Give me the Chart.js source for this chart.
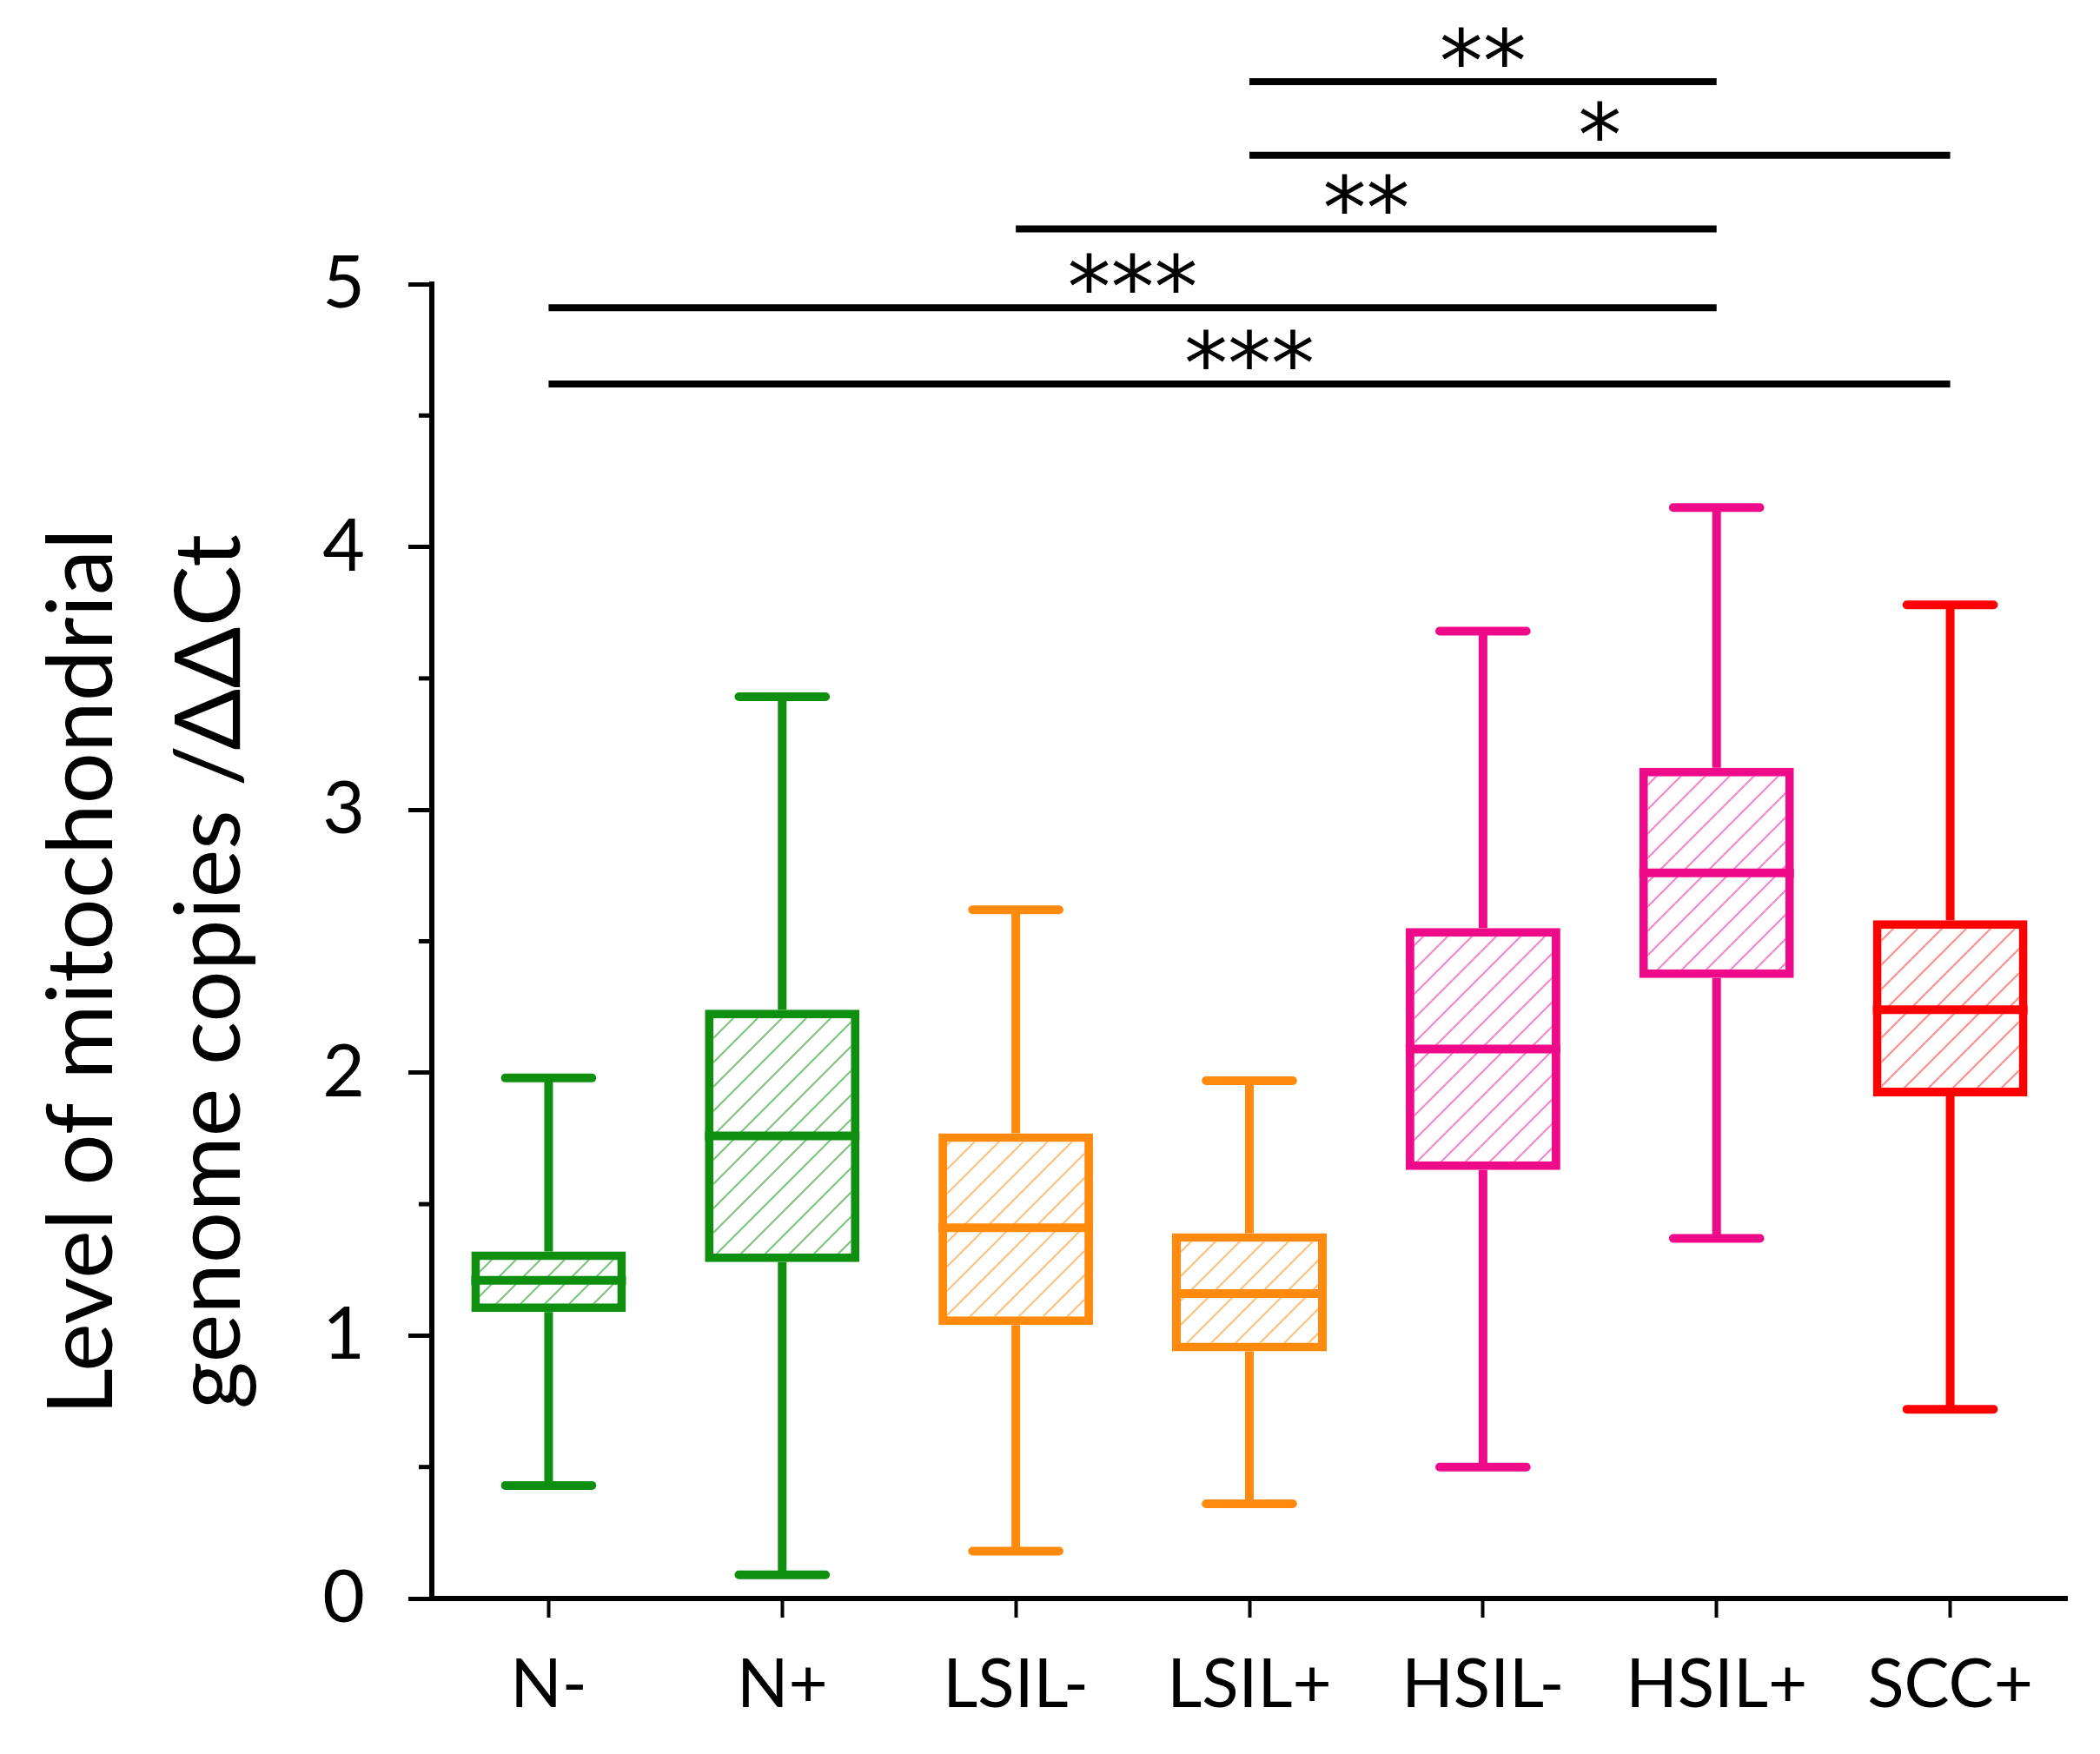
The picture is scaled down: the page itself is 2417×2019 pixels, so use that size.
<!DOCTYPE html>
<html>
<head>
<meta charset="utf-8">
<script src="https://cdn.jsdelivr.net/npm/chart.js@4.4.0/dist/chart.umd.min.js"></script>
<style>
  html, body { margin: 0; padding: 0; background: #fff; }
  #wrap { width: 2417px; height: 2019px; position: relative; }
</style>
</head>
<body>
<div id="wrap"><canvas id="chart"></canvas></div>
<script>
// groups and box-plot values
const categories  = ['N-', 'N+', 'LSIL-', 'LSIL+', 'HSIL-', 'HSIL+', 'SCC+'];
const whiskerLow  = [0.43, 0.09, 0.18, 0.36, 0.50, 1.37, 0.72];
const quartile1   = [1.09, 1.28, 1.04, 0.94, 1.63, 2.36, 1.91];
const medians     = [1.21, 1.76, 1.41, 1.16, 2.09, 2.76, 2.24];
const quartile3   = [1.32, 2.24, 1.77, 1.39, 2.55, 3.16, 2.58];
const whiskerHigh = [1.98, 3.43, 2.62, 1.97, 3.68, 4.15, 3.78];

const yTickLabels = [0, 1, 2, 3, 4, 5];

// significance brackets
const sigFrom  = ['LSIL+', 'LSIL+', 'LSIL-', 'N-', 'N-'];
const sigTo    = ['HSIL+', 'SCC+', 'HSIL+', 'HSIL+', 'SCC+'];
const sigLevel = [5.77, 5.49, 5.21, 4.91, 4.62];
const sigStars = ['**', '*', '**', '***', '***'];

const yTitle = ['Level of mitochondrial', 'genome copies /ΔΔCt'];

// colours
const groupColors = ['#0f8f0f', '#0f8f0f', '#ff8a0d', '#ff8a0d', '#ee0a88', '#ee0a88', '#ff0000'];
const hatchColors = ['rgba(15,143,15,0.55)', 'rgba(15,143,15,0.55)', 'rgba(255,138,13,0.55)', 'rgba(255,138,13,0.55)',
                     'rgba(238,10,136,0.5)', 'rgba(238,10,136,0.5)', 'rgba(255,0,0,0.45)'];

const LINE_W = 10;

// diagonal hatch fill for the boxes
function hatch(color) {
    const s = 28;
    const c = document.createElement('canvas');
    c.width = s;
    c.height = s;
    const g = c.getContext('2d');
    g.fillStyle = '#fff';
    g.fillRect(0, 0, s, s);
    g.strokeStyle = color;
    g.lineWidth = 2;
    g.beginPath();
    g.moveTo(0, s); g.lineTo(s, 0);
    g.moveTo(-s / 2, s / 2); g.lineTo(s / 2, -s / 2);
    g.moveTo(s / 2, 3 * s / 2); g.lineTo(3 * s / 2, s / 2);
    g.stroke();
    return g.createPattern(c, 'repeat');
}

// whiskers under the boxes, medians on top
const boxPlugin = {
    id: 'boxWhiskers',
    beforeDatasetsDraw(chart) {
        const y = chart.scales.y;
        const ctx = chart.ctx;
        ctx.save();
        chart.getDatasetMeta(0).data.forEach((bar, i) => {
            const half = bar.width * 0.28;
            const yHi = y.getPixelForValue(whiskerHigh[i]);
            const yLo = y.getPixelForValue(whiskerLow[i]);
            ctx.strokeStyle = groupColors[i];
            ctx.lineWidth = LINE_W;
            ctx.lineCap = 'butt';
            ctx.beginPath();
            ctx.moveTo(bar.x, yHi);
            ctx.lineTo(bar.x, y.getPixelForValue(quartile3[i]));
            ctx.moveTo(bar.x, y.getPixelForValue(quartile1[i]));
            ctx.lineTo(bar.x, yLo);
            ctx.stroke();
            ctx.lineCap = 'round';
            ctx.beginPath();
            ctx.moveTo(bar.x - half, yHi); ctx.lineTo(bar.x + half, yHi);
            ctx.moveTo(bar.x - half, yLo); ctx.lineTo(bar.x + half, yLo);
            ctx.stroke();
        });
        ctx.restore();
    },
    afterDatasetsDraw(chart) {
        const y = chart.scales.y;
        const ctx = chart.ctx;
        ctx.save();
        chart.getDatasetMeta(0).data.forEach((bar, i) => {
            const ym = y.getPixelForValue(medians[i]);
            ctx.strokeStyle = groupColors[i];
            ctx.lineWidth = LINE_W;
            ctx.beginPath();
            ctx.moveTo(bar.x - bar.width / 2, ym);
            ctx.lineTo(bar.x + bar.width / 2, ym);
            ctx.stroke();
        });
        ctx.restore();
    },
};

// minor y ticks, significance brackets, y title
const decorPlugin = {
    id: 'decor',
    afterDraw(chart) {
        const { ctx, chartArea } = chart;
        const x = chart.scales.x;
        const y = chart.scales.y;
        ctx.save();

        // minor ticks at the half steps
        ctx.strokeStyle = '#000';
        ctx.lineWidth = 5;
        y.ticks.forEach((t, i) => {
            if (yTickLabels.includes(t.value)) return;
            const py = y.getPixelForTick(i);
            ctx.beginPath();
            ctx.moveTo(chartArea.left - 15, py);
            ctx.lineTo(chartArea.left, py);
            ctx.stroke();
        });

        // brackets + stars
        ctx.lineWidth = 8;
        ctx.fillStyle = '#000';
        ctx.font = '100px "DejaVu Sans"';
        ctx.textAlign = 'center';
        ctx.textBaseline = 'alphabetic';
        sigLevel.forEach((lvl, i) => {
            const x1 = x.getPixelForValue(categories.indexOf(sigFrom[i]));
            const x2 = x.getPixelForValue(categories.indexOf(sigTo[i]));
            const py = y.getPixelForValue(lvl);
            ctx.beginPath();
            ctx.moveTo(x1, py);
            ctx.lineTo(x2, py);
            ctx.stroke();
            const m = ctx.measureText(sigStars[i]);
            const centre = py - 40;
            const base = centre + (m.actualBoundingBoxAscent - m.actualBoundingBoxDescent) / 2;
            ctx.fillText(sigStars[i], (x1 + x2) / 2, base);
        });

        // rotated two-line axis title
        ctx.font = '105px Lato';
        ctx.textAlign = 'center';
        ctx.textBaseline = 'alphabetic';
        const cy = (chartArea.top + chartArea.bottom) / 2 + 35;
        [chartArea.left - 368, chartArea.left - 221].forEach((bx, i) => {
            ctx.save();
            ctx.translate(bx, cy);
            ctx.rotate(-Math.PI / 2);
            ctx.fillText(yTitle[i], 0, 0);
            ctx.restore();
        });

        ctx.restore();
    },
};

function draw() {
    const ctx = document.getElementById('chart').getContext('2d');
    new Chart(ctx, {
        type: 'bar',
        data: {
            labels: categories,
            datasets: [{
                data: categories.map((c, i) => [quartile1[i], quartile3[i]]),
                backgroundColor: hatchColors.map(hatch),
                borderColor: groupColors,
                borderWidth: LINE_W,
                borderSkipped: false,
                barPercentage: 0.662,
                categoryPercentage: 1.0,
            }],
        },
        options: {
            responsive: true,
            maintainAspectRatio: false,
            devicePixelRatio: 1,
            animation: false,
            layout: { padding: { top: 327, right: 38, bottom: 0, left: 0 } },
            plugins: {
                legend: { display: false },
                tooltip: { enabled: false },
            },
            scales: {
                x: {
                    offset: true,
                    grid: { drawOnChartArea: false, offset: false, tickLength: 22, tickWidth: 4, tickColor: '#000' },
                    border: { display: true, color: '#000', width: 6 },
                    ticks: { padding: 31, color: '#000', font: { family: 'Lato', size: 78 } },
                    afterFit: (s) => { s.height = 179; },
                },
                y: {
                    min: 0,
                    max: 5,
                    grid: {
                        drawOnChartArea: false,
                        tickLength: 27,
                        tickWidth: 5,
                        tickColor: (c) => (c.tick && yTickLabels.includes(c.tick.value) ? '#000' : 'rgba(0,0,0,0)'),
                    },
                    border: { display: true, color: '#000', width: 6 },
                    ticks: {
                        stepSize: 0.5,
                        autoSkip: false,
                        padding: 50,
                        color: '#000',
                        font: { family: 'Lato', size: 84 },
                        callback: (v) => (yTickLabels.includes(v) ? String(v) : ''),
                    },
                    afterFit: (s) => { s.width = 497; },
                },
            },
        },
        plugins: [boxPlugin, decorPlugin],
    });
}

Promise.all([
    document.fonts.load('80px Lato'),
    document.fonts.load('100px "DejaVu Sans"'),
]).catch(() => {}).then(draw);
</script>
</body>
</html>
